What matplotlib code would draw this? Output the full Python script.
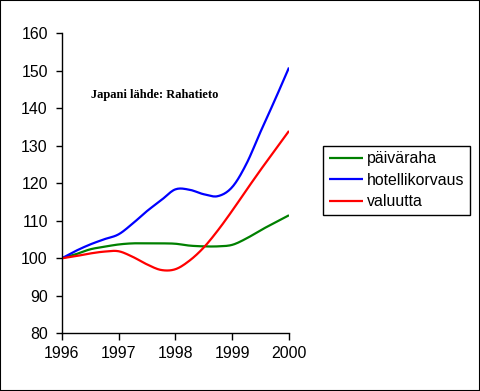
import numpy as np
import matplotlib.pyplot as plt
from matplotlib.patches import Rectangle

# quarterly readings, 1996..2000
years = [1996.0, 1996.25, 1996.5, 1996.75, 1997.0, 1997.25, 1997.5, 1997.75, 1998.0,
         1998.25, 1998.5, 1998.75, 1999.0, 1999.25, 1999.5, 1999.75, 2000.0]
paivaraha = [100, 101.1, 102.4, 103.1, 103.7, 104.0, 104.0, 104.0, 103.9,
             103.4, 103.2, 103.2, 103.6, 105.3, 107.5, 109.5, 111.5]
hotellikorvaus = [100, 102.0, 103.7, 105.1, 106.4, 109.3, 112.6, 115.5, 118.4,
                  118.3, 117.1, 116.6, 119.0, 125.2, 133.8, 142.2, 150.9]
valuutta = [100, 100.6, 101.3, 101.8, 101.9, 100.4, 98.4, 96.9, 97.1,
            99.4, 102.9, 107.5, 112.7, 118.2, 123.6, 128.8, 134.0]

labels = ['päiväraha', 'hotellikorvaus', 'valuutta']
colors = ['#008000', '#0000ff', '#ff0000']


def smooth(x, y, n=12):
    # catmull-rom path through the points, like a smoothed excel line
    x = np.asarray(x, float)
    y = np.asarray(y, float)
    px = np.concatenate([[2 * x[0] - x[1]], x, [2 * x[-1] - x[-2]]])
    py = np.concatenate([[2 * y[0] - y[1]], y, [2 * y[-1] - y[-2]]])
    t = np.linspace(0, 1, n, endpoint=False)
    xs, ys = [], []
    for i in range(1, len(px) - 2):
        for p, out in ((px, xs), (py, ys)):
            p0, p1, p2, p3 = p[i - 1], p[i], p[i + 1], p[i + 2]
            out.extend(0.5 * (2 * p1 + (-p0 + p2) * t
                              + (2 * p0 - 5 * p1 + 4 * p2 - p3) * t ** 2
                              + (-p0 + 3 * p1 - 3 * p2 + p3) * t ** 3))
    xs.append(x[-1])
    ys.append(y[-1])
    return xs, ys


plt.rcParams['font.family'] = ['Liberation Sans', 'DejaVu Sans']

fig = plt.figure(figsize=(4.8, 3.91), dpi=100)
ax = fig.add_axes([0.1285, 0.1475, 0.4736, 0.767])

for vals, lab, col in zip([paivaraha, hotellikorvaus, valuutta], labels, colors):
    sx, sy = smooth(years, vals)
    ax.plot(sx, sy, color=col, lw=1.6, label=lab, solid_capstyle='butt')

ax.set_xlim(1996, 2000)
ax.set_ylim(80, 160)
ax.set_xticks([1996, 1997, 1998, 1999, 2000])
ax.set_yticks(range(80, 161, 10))
ax.spines['top'].set_visible(False)
ax.spines['right'].set_visible(False)
for s in ('left', 'bottom'):
    ax.spines[s].set_linewidth(1)
ax.tick_params(axis='y', direction='out', length=4, width=1, pad=6, labelsize=11.4)
ax.tick_params(axis='x', direction='out', length=5, width=1, pad=4, labelsize=11.4)

ax.text(0.13, 0.785, 'Japani lähde: Rahatieto', transform=ax.transAxes,
        family=['Liberation Serif', 'DejaVu Serif'], fontweight='bold', fontsize=9)

leg = fig.legend(loc='upper left', bbox_to_anchor=(0.673, 0.627), bbox_transform=fig.transFigure,
                 borderaxespad=0, fancybox=False, edgecolor='black', framealpha=1,
                 fontsize=11.4, handlelength=2.15, handletextpad=0.25, labelspacing=0.4,
                 borderpad=0.35)
leg.get_frame().set_linewidth(1)

fig.patches.append(Rectangle((0, 0), 1, 1, transform=fig.transFigure, fill=False,
                             ec='black', lw=1.5))

fig.savefig('out.png', dpi=100)
